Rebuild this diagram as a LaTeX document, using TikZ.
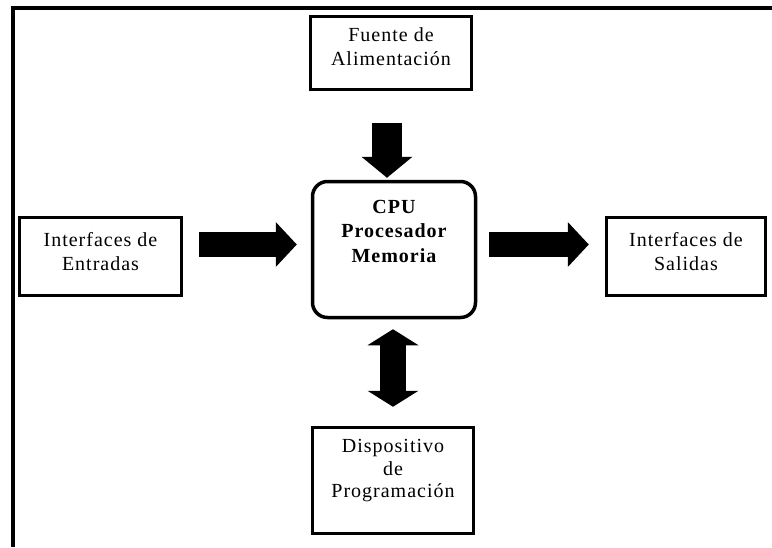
\documentclass[tikz,border=0pt]{standalone}
\usepackage{fontspec}
\setmainfont[LetterSpace=5]{Liberation Serif}
\usetikzlibrary{arrows.meta,positioning}

\tikzset{
  box/.style={draw, line width=3.5pt, align=center, inner sep=0pt,
    font=\fontsize{20}{24}\selectfont},
  cpubox/.style={draw, line width=3.5pt, rounded corners=15pt},
  cputext/.style={align=center, inner sep=0pt,
    font=\bfseries\fontsize{20}{24.5}\selectfont},
  hbigarrow/.style={line width=25pt, -{Triangle[length=21pt,width=45pt,line width=0pt]}},
  vbigarrow/.style={line width=30pt, -{Triangle[length=21pt,width=51pt,line width=0pt]}},
  dblarrow/.style={line width=26pt,
    {Triangle[length=16pt,width=51pt,line width=0pt]}-{Triangle[length=16pt,width=51pt,line width=0pt]}}
}

\begin{document}
\begin{tikzpicture}[x=1pt,y=-1pt]
  \useasboundingbox (0,0) rectangle (772,547);
  % frame
  \draw[line width=3.5pt] (13,547) -- (13,8) -- (772,8);

  \node[box, minimum width=161pt, minimum height=73pt, text depth=12pt] (fuente) at (391,53) {Fuente de\\Alimentación};
  \node[box, minimum width=162pt, minimum height=78pt, text depth=10pt] (entradas) at (100.5,256.5) {Interfaces de\\Entradas};
  \node[box, minimum width=159pt, minimum height=78pt, text depth=10pt] (salidas) at (686,256.5) {Interfaces de\\Salidas};
  \node[cpubox, minimum width=163pt, minimum height=136pt] (cpu) at (394,249.5) {};
  \node[cputext, below=20pt of cpu.north] (cpulabel) {CPU\\Procesador\\Memoria};
  \node[box, minimum width=161pt, minimum height=106pt, text depth=24pt,
    font=\fontsize{20}{22.5}\selectfont] (dispositivo) at (393,480.5) {Dispositivo\\de\\Programación};

  % arrows
  \draw[vbigarrow, shorten <=32pt, shorten >=2pt]
    ([xshift=-4pt]fuente.south) -- ([xshift=-4pt]fuente.south |- cpu.north);
  \draw[hbigarrow, shorten <=16pt, shorten >=14pt]
    ([yshift=12pt]entradas.east) -- ([yshift=12pt]entradas.east -| cpu.west);
  \draw[hbigarrow, shorten <=12pt, shorten >=16pt]
    ([yshift=12pt]salidas.west -| cpu.east) -- ([yshift=12pt]salidas.west);
  \draw[dblarrow, shorten <=10pt, shorten >=19pt]
    (dispositivo.north |- cpu.south) -- (dispositivo.north);
\end{tikzpicture}
\end{document}
